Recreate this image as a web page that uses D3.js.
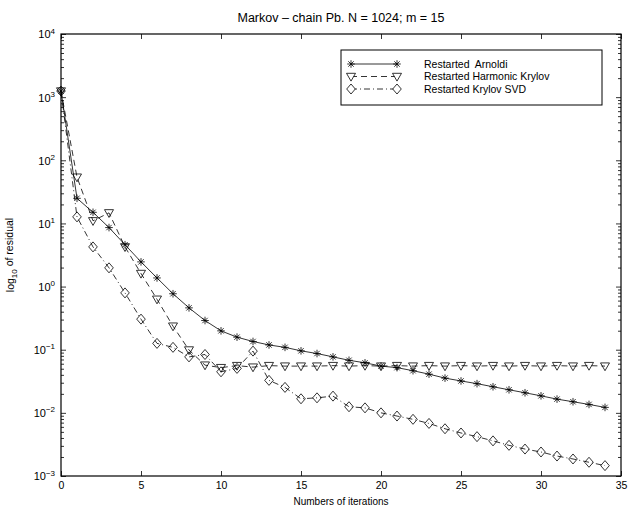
<!DOCTYPE html>
<html>
<head>
<meta charset="utf-8">
<script src="https://cdn.jsdelivr.net/npm/d3@7/dist/d3.min.js"></script>
<style>
  html, body { margin: 0; padding: 0; background: #fff; }
  svg { display: block; font-family: "Liberation Sans", Arial, Helvetica, sans-serif; }
</style>
</head>
<body>
<svg id="chart" width="630" height="508"></svg>
<script>
// ---------- data ----------
const iterations = d3.range(0, 35); // 0..34
const arnoldi = [1250, 25, 15, 8.6, 4.6, 2.46, 1.37, 0.77, 0.46, 0.29, 0.199, 0.158, 0.135, 0.119,
  0.109, 0.096, 0.087, 0.077, 0.068, 0.062, 0.055, 0.052, 0.0465, 0.041, 0.0355, 0.032, 0.029,
  0.0259, 0.0232, 0.0208, 0.0186, 0.0165, 0.0150, 0.0136, 0.0122];
const harmonic = [1250, 54, 11, 14.7, 4.25, 1.61, 0.63, 0.236, 0.099, 0.057, 0.052, 0.056, 0.053,
  0.056, 0.055, 0.055, 0.055, 0.056, 0.055, 0.056, 0.055, 0.056, 0.055, 0.056, 0.055, 0.056,
  0.055, 0.056, 0.055, 0.056, 0.055, 0.056, 0.055, 0.056, 0.055];
const svd = [1250, 12.7, 4.25, 1.98, 0.794, 0.305, 0.126, 0.109, 0.077, 0.084, 0.0447, 0.0506,
  0.095, 0.0327, 0.0253, 0.0167, 0.0173, 0.0184, 0.0125, 0.0120, 0.0100, 0.0089, 0.0079, 0.0068,
  0.0056, 0.0048, 0.0042, 0.0036, 0.00306, 0.00267, 0.0024, 0.00207, 0.00186, 0.00165, 0.00146];
const seriesNames = ["Restarted  Arnoldi", "Restarted Harmonic Krylov", "Restarted Krylov SVD"];
const xTicks = [0, 5, 10, 15, 20, 25, 30, 35];
const yExponents = [-3, -2, -1, 0, 1, 2, 3, 4];
const titleText = "Markov \u2013 chain Pb. N = 1024; m = 15";
const xLabelText = "Numbers of iterations";

// ---------- layout ----------
const svg = d3.select("#chart");
const L = 61, R = 621, T = 34, B = 476;
const x = d3.scaleLinear().domain([0, 35]).range([L, R]);
const y = d3.scaleLog().domain([1e-3, 1e4]).range([B, T]);

const majors = yExponents.map(e => Math.pow(10, e));
const minors = [];
for (let e = -3; e < 4; e++) for (let k = 2; k <= 9; k++) minors.push(k * Math.pow(10, e));

function styleAxis(g) {
  g.select(".domain").remove();
  g.selectAll(".tick line").attr("stroke", "#000").attr("stroke-width", 0.8);
}

// frame
svg.append("rect").attr("x", L).attr("y", T).attr("width", R - L).attr("height", B - T)
  .attr("fill", "none").attr("stroke", "#000").attr("stroke-width", 1.2);

// bottom axis
const gx = svg.append("g").attr("transform", `translate(0,${B})`)
  .call(d3.axisBottom(x).tickValues(xTicks).tickSize(-5).tickPadding(6).tickFormat(d3.format("d")));
styleAxis(gx);
gx.selectAll(".tick text").attr("font-size", 10.5).attr("fill", "#000")
  .attr("font-family", "Liberation Sans, Arial, sans-serif");
// top axis
const gxt = svg.append("g").attr("transform", `translate(0,${T})`)
  .call(d3.axisTop(x).tickValues(xTicks).tickSize(-5).tickFormat(""));
styleAxis(gxt);

// left axis major
const gy = svg.append("g").attr("transform", `translate(${L},0)`)
  .call(d3.axisLeft(y).tickValues(majors).tickSize(-5).tickPadding(6).tickFormat(""));
styleAxis(gy);
gy.selectAll(".tick").each(function(d) {
  const e = Math.round(Math.log10(d));
  const t = d3.select(this).append("text").attr("x", -6).attr("dy", "0.35em")
    .attr("text-anchor", "end").attr("font-size", 11).attr("fill", "#000")
    .attr("font-family", "Liberation Sans, Arial, sans-serif");
  t.append("tspan").text("10");
  t.append("tspan").attr("font-size", 8).attr("dy", "-0.6em").text(String(e).replace("-", "\u2212"));
});
const gym = svg.append("g").attr("transform", `translate(${L},0)`)
  .call(d3.axisLeft(y).tickValues(minors).tickSize(-3).tickFormat(""));
styleAxis(gym);
// right axis
const gyr = svg.append("g").attr("transform", `translate(${R},0)`)
  .call(d3.axisRight(y).tickValues(majors).tickSize(-5).tickFormat(""));
styleAxis(gyr);
const gyrm = svg.append("g").attr("transform", `translate(${R},0)`)
  .call(d3.axisRight(y).tickValues(minors).tickSize(-3).tickFormat(""));
styleAxis(gyrm);

// ---------- markers ----------
const markerPaths = {
  star: "M-3.8,0H3.8M0,-3.8V3.8M-2.7,-2.7L2.7,2.7M-2.7,2.7L2.7,-2.7",
  tri: "M-4.5,-3.2L4.5,-3.2L0,4.6Z",
  dia: "M0,-5L4.3,0L0,5L-4.3,0Z"
};
const series = [
  { name: seriesNames[0], values: arnoldi, dash: null, marker: "star" },
  { name: seriesNames[1], values: harmonic, dash: "6,4", marker: "tri" },
  { name: seriesNames[2], values: svd, dash: "6,3,1,3", marker: "dia" }
];

const line = d3.line().x((d, i) => x(iterations[i])).y(d => y(d));
const plot = svg.append("g");
series.forEach(s => {
  plot.append("path").datum(s.values).attr("d", line)
    .attr("fill", "none").attr("stroke", "#000").attr("stroke-width", 0.8)
    .attr("stroke-dasharray", s.dash);
  plot.selectAll(null).data(s.values).enter().append("path")
    .attr("transform", (d, i) => `translate(${x(iterations[i])},${y(d)})`)
    .attr("d", markerPaths[s.marker])
    .attr("fill", "none")
    .attr("stroke", "#000").attr("stroke-width", 0.8);
});

// ---------- legend ----------
const lg = svg.append("g");
lg.append("rect").attr("x", 341).attr("y", 50).attr("width", 261).attr("height", 55)
  .attr("fill", "#fff").attr("stroke", "#000").attr("stroke-width", 1);
const rowY = [64, 76.5, 89];
series.forEach((s, i) => {
  const yy = rowY[i];
  lg.append("line").attr("x1", 351).attr("x2", 397).attr("y1", yy).attr("y2", yy)
    .attr("stroke", "#000").attr("stroke-width", 0.8).attr("stroke-dasharray", s.dash);
  [351, 397].forEach(px => {
    lg.append("path").attr("transform", `translate(${px},${yy})`).attr("d", markerPaths[s.marker])
      .attr("fill", s.marker === "star" ? "none" : "#fff").attr("stroke", "#000").attr("stroke-width", 0.8);
  });
  lg.append("text").attr("x", 424).attr("y", yy).attr("dy", "0.35em")
    .attr("font-size", 10.5).attr("fill", "#000").attr("xml:space", "preserve")
    .style("white-space", "pre").text(s.name);
});

// ---------- titles ----------
svg.append("text").attr("x", (L + R) / 2).attr("y", 22).attr("text-anchor", "middle")
  .attr("font-size", 12.5).attr("fill", "#000").text(titleText);
svg.append("text").attr("x", (L + R) / 2).attr("y", 505).attr("text-anchor", "middle")
  .attr("font-size", 10).attr("fill", "#000").text(xLabelText);
const yl = svg.append("text").attr("transform", `translate(14,${(T + B) / 2}) rotate(-90)`)
  .attr("text-anchor", "middle").attr("font-size", 10.5).attr("fill", "#000");
yl.append("tspan").text("log");
yl.append("tspan").attr("font-size", 8).attr("dy", "0.35em").text("10");
yl.append("tspan").attr("dy", "-0.35em").text(" of residual");
</script>
</body>
</html>
